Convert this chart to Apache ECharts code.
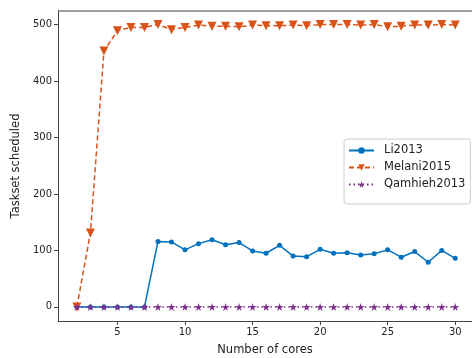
<!DOCTYPE html>
<html>
<head>
<meta charset="utf-8">
<script src="https://cdn.jsdelivr.net/npm/echarts@6/dist/echarts.min.js"></script>
<style>
  html, body { margin: 0; padding: 0; background: #fff; overflow: hidden; }
  #chart { width: 472px; height: 358px; }
</style>
</head>
<body>
<div id="chart"></div>
<script>
// Number of cores (x values)
const cores = [2,3,4,5,6,7,8,9,10,11,12,13,14,15,16,17,18,19,20,21,22,23,24,25,26,27,28,29,30];

// Tasksets scheduled per analysis
const li2013 = [0,0,0,0,0,0,116,115,101,112,119,110,114,99,95,109,90,89,102,95,96,92,94,101,88,98,79,100,86];
const melani2015 = [0,131,453,489,495,495,500,491,495,499,497,497,496,499,498,498,499,498,500,500,500,499,500,496,497,499,499,500,499];
const qamhieh2013 = [0,0,0,0,0,0,0,0,0,0,0,0,0,0,0,0,0,0,0,0,0,0,0,0,0,0,0,0,0];

const xTicks = [5, 10, 15, 20, 25, 30];
const yTicks = [0, 100, 200, 300, 400, 500];

const pairs = ys => cores.map((c, i) => [c, ys[i]]);

const STAR = 'path://M50,0 L61,35 L98,35 L68,57 L79,91 L50,70 L21,91 L32,57 L2,35 L39,35 Z';
const FONT = 'DejaVu Sans';

const chart = echarts.init(document.getElementById('chart'), null, { renderer: 'canvas' });

const axisCommon = {
  axisLine: { show: true, onZero: false, lineStyle: { color: '#444', width: 1 } },
  axisTick: { show: true, inside: false, length: 4, lineStyle: { color: '#444', width: 1 } },
  splitLine: { show: false },
  axisLabel: { color: '#222', fontFamily: FONT, fontSize: 10 },
  nameTextStyle: { color: '#222', fontFamily: FONT, fontSize: 11.5 }
};

chart.setOption({
  animation: false,
  backgroundColor: '#fff',
  grid: { left: 58, top: 11, right: 0, bottom: 37, containLabel: false, outerBoundsMode: 'none' },
  xAxis: {
    type: 'value',
    min: 0.6,
    max: 31.24,
    name: 'Number of cores',
    nameLocation: 'middle',
    nameGap: 23,
    ...axisCommon,
    axisTick: { ...axisCommon.axisTick, customValues: xTicks },
    axisLabel: { ...axisCommon.axisLabel, margin: 6, customValues: xTicks }
  },
  yAxis: {
    type: 'value',
    min: -25,
    max: 524,
    name: 'Taskset scheduled',
    nameLocation: 'middle',
    nameGap: 32,
    ...axisCommon,
    axisTick: { ...axisCommon.axisTick, customValues: yTicks },
    axisLabel: { ...axisCommon.axisLabel, margin: 6, customValues: yTicks }
  },
  graphic: [
    { type: 'line', shape: { x1: 58, y1: 11, x2: 472, y2: 11 }, style: { stroke: '#444', lineWidth: 1 }, silent: true }
  ],
  legend: {
    orient: 'vertical',
    left: 344,
    top: 139,
    padding: [5, 5, 13, 4],
    itemWidth: 25,
    itemHeight: 8,
    itemGap: 4,
    backgroundColor: 'rgba(255,255,255,0.8)',
    borderColor: '#ccc',
    borderWidth: 1,
    borderRadius: 3,
    textStyle: { color: '#222', fontFamily: FONT, fontSize: 11.5, lineHeight: 13, padding: [0, 0, 0, 5] },
    data: ['Li2013', 'Melani2015', 'Qamhieh2013']
  },
  series: [
    {
      name: 'Li2013',
      type: 'line',
      data: pairs(li2013),
      symbol: 'circle',
      symbolSize: 5,
      showAllSymbol: true,
      color: '#0072BD',
      lineStyle: { width: 1.5, color: '#0072BD' },
      itemStyle: { color: '#0072BD' },
      z: 2
    },
    {
      name: 'Melani2015',
      type: 'line',
      data: pairs(melani2015),
      symbol: 'triangle',
      symbolRotate: 180,
      symbolSize: 9,
      showAllSymbol: true,
      color: '#D95319',
      lineStyle: { width: 1.5, type: [5, 3], color: '#D95319' },
      itemStyle: { color: '#D95319' },
      z: 3
    },
    {
      name: 'Qamhieh2013',
      type: 'line',
      data: pairs(qamhieh2013),
      symbol: STAR,
      symbolSize: 8,
      showAllSymbol: true,
      color: '#7E2F8E',
      lineStyle: { width: 1.5, type: [1.5, 3], color: '#7E2F8E' },
      itemStyle: { color: '#7E2F8E' },
      z: 4
    }
  ]
});
</script>
</body>
</html>
